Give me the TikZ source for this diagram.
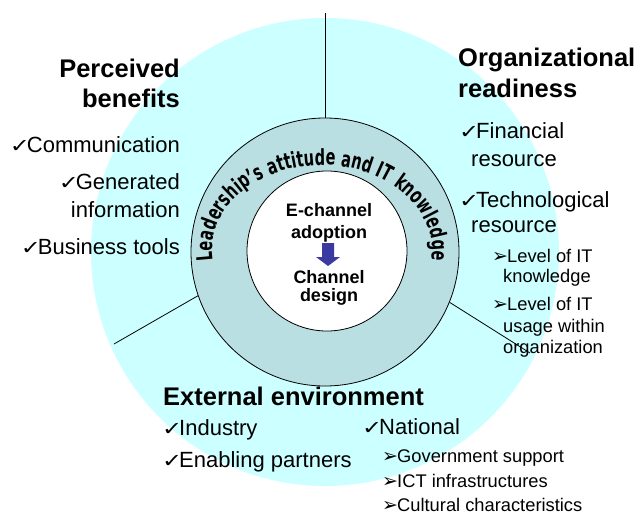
\documentclass[tikz,border=0pt]{standalone}
\usepackage{fontspec}
\usepackage{graphicx}
\setmainfont{Liberation Sans}
\newfontfamily\symfont{DejaVu Sans}
\newfontfamily\arcfont{DejaVu Sans}[FakeStretch=0.66]
\usetikzlibrary{decorations.text}
\definecolor{outercyan}{RGB}{204,255,255}
\definecolor{ringteal}{RGB}{186,223,226}
\definecolor{arrowblue}{RGB}{58,58,160}
\newcommand\chk{\makebox[17pt][l]{\symfont\fontsize{24}{24}\selectfont\scalebox{1}[0.8]{✓}}}
\newcommand\arw{\makebox[15pt][l]{\symfont\fontsize{19}{19}\selectfont ➢}}
\begin{document}
\begin{tikzpicture}[x=1pt,y=-1pt,
  head/.style={font=\fontsize{25.5}{30}\selectfont\bfseries, inner sep=0pt},
  body/.style={font=\fontsize{22}{26}\selectfont, inner sep=0pt},
  sub/.style={font=\fontsize{18.3}{21}\selectfont, inner sep=0pt},
  core/.style={font=\fontsize{18}{22}\selectfont\bfseries, inner sep=0pt},
  divider/.style={line width=0.8pt},
  disc/.style={circle, inner sep=0pt}]
\useasboundingbox (0,0) rectangle (639,516);
% circles
\node[disc, fill=outercyan, minimum size=468pt] (outer) at (325,252) {};
\node[disc, draw, line width=0.8pt, fill=ringteal, minimum size=268pt] (ring) at (325,252) {};
\node[disc, draw, line width=0.8pt, fill=white, minimum size=160pt] (inner) at (327,251) {};
% dividers
\coordinate (topend) at (325,13);
\coordinate (leftend) at (114,344);
\coordinate (rightend) at (530,353);
\draw[divider] (ring.north) -- (topend);
\draw[divider] (ring.199) -- (leftend);
\draw[divider] (ring.338) -- (rightend);
% curved text
\path[decorate, decoration={text along path, text align=fit to path,
  text={|\arcfont\bfseries\fontsize{22}{22}\selectfont|Leadership’s attitude and IT knowledge}}]
  (212.8,260.4) arc[start angle=187, end angle=-7, x radius=110pt, y radius=85pt];
% core
\node[core, anchor=base] (ech) at (329,216) {E-channel};
\node[core, anchor=base] (adop) at (329,238) {adoption};
\node[core, anchor=base] (chan) at (329,283) {Channel};
\node[core, anchor=base] (des) at (329,301) {design};
\fill[arrowblue] (322,243) -- (334,243) -- (334,257) -- (340,257) -- (328,266) -- (316,257) -- (322,257) -- cycle;
% perceived benefits
\node[head, anchor=base east] (pb1) at (180,78) {Perceived};
\node[head, anchor=base east] (pb2) at (180,108) {benefits};
\node[body, anchor=base east] (pbc) at (180,152) {\chk Communication};
\node[body, anchor=base east] (pbg) at (180,189) {\chk Generated};
\node[body, anchor=base east] (pbg2) at (180,217) {information};
\node[body, anchor=base east] (pbb) at (180,254) {\chk Business tools};
% organizational readiness
\node[head, anchor=base west] (or1) at (458,67) {Organizational};
\node[head, anchor=base west] (or2) at (458,98) {readiness};
\node[body, anchor=base west] (orf) at (459,139) {\chk Financial};
\node[body, anchor=base west] (orf2) at (471,166) {resource};
\node[body, anchor=base west] (ort) at (459,207) {\chk Technological};
\node[body, anchor=base west] (ort2) at (471,232) {resource};
\node[sub, anchor=base west] (orl1) at (492,262) {\arw Level of IT};
\node[sub, anchor=base west] (orl1b) at (503,282) {knowledge};
\node[sub, anchor=base west] (orl2) at (492,310) {\arw Level of IT};
\node[sub, anchor=base west] (orl2b) at (503,332) {usage within};
\node[sub, anchor=base west] (orl2c) at (503,353) {organization};
% external environment
\node[head, anchor=base west] (ee) at (163,405) {External environment};
\node[body, anchor=base west] (eei) at (162,435) {\chk Industry};
\node[body, anchor=base west] (eee) at (162,467) {\chk Enabling partners};
\node[body, anchor=base west] (een) at (362,434) {\chk National};
\node[sub, anchor=base west] (eeg) at (382,462) {\arw Government support};
\node[sub, anchor=base west] (eet) at (382,487) {\arw ICT infrastructures};
\node[sub, anchor=base west] (eec) at (382,511) {\arw Cultural characteristics};
\end{tikzpicture}
\end{document}
